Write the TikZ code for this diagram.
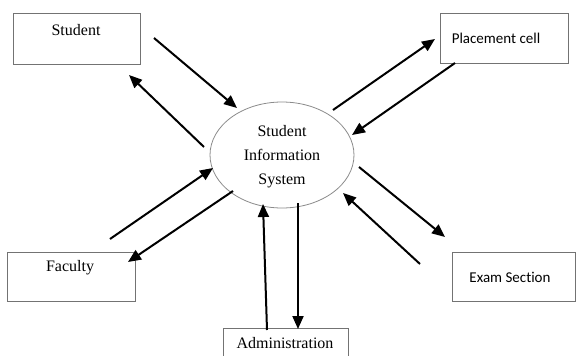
\documentclass[tikz,border=0pt]{standalone}
\usepackage{fontspec}
\setmainfont{Liberation Serif}
\newfontfamily\calib[Ligatures=NoCommon]{Carlito}
\usetikzlibrary{arrows.meta,shapes.geometric}
\begin{document}
\begin{tikzpicture}[x=1pt,y=-1pt,
  box/.style={draw=black!55,line width=0.8pt,rectangle,inner sep=0pt},
  lbl/.style={inner sep=0pt,font=\fontsize{16}{18}\selectfont},
  slbl/.style={inner sep=0pt,font=\calib\fontsize{15}{18}\selectfont},
  flow/.style={line width=2pt,-{Triangle[length=13pt,width=11pt]}}]
\useasboundingbox (0,0) rectangle (576,356);
\fill[white] (0,0) rectangle (576,356);
\begin{scope}
\clip (0,0) rectangle (576,356);
% boxes
\node[box,minimum width=127pt,minimum height=51pt] (student) at (76.5,38.5) {};
\node[box,minimum width=128pt,minimum height=50pt] (placement) at (504,38) {};
\node[box,minimum width=128pt,minimum height=49pt] (faculty) at (71,276.5) {};
\node[box,minimum width=123pt,minimum height=49pt] (exam) at (513.5,276.5) {};
\node[box,minimum width=125pt,minimum height=40pt] (admin) at (285.5,348) {};
\node[draw=black!45,line width=0.8pt,ellipse,minimum width=144pt,minimum height=106pt,inner sep=0pt] (sis) at (282,155) {};
\end{scope}
% labels
\node[lbl] (tstudent) at (76,30) {Student};
\node[slbl] (tplacement) at (496,38) {Placement cell};
\node[lbl] (tfaculty) at (70,268) {Faculty};
\node[slbl] (texam) at (510,277) {Exam Section};
\node[lbl] (tadmin) at (285,343) {Administration};
\node[lbl,align=center,font=\fontsize{16}{24}\selectfont] (tsis) at (282,157) {Student\\Information\\System};
% arrow endpoints
\coordinate (a1s) at (154,38);  \coordinate (a1e) at (237,108);
\coordinate (a2s) at (204,147); \coordinate (a2e) at (129,75);
\coordinate (a3s) at (333,110); \coordinate (a3e) at (435,39);
\coordinate (a4s) at (455,63);  \coordinate (a4e) at (352,135);
\coordinate (a5s) at (110,239); \coordinate (a5e) at (213,168);
\coordinate (a6s) at (233,191); \coordinate (a6e) at (128,262);
\coordinate (a7s) at (267,330); \coordinate (a7e) at (263,204);
\coordinate (a8s) at (298,203); \coordinate (a8e) at (298,329);
\coordinate (a9s) at (359,167); \coordinate (a9e) at (445,237);
\coordinate (a10s) at (420,264); \coordinate (a10e) at (343,193);
\draw[flow] (a1s) -- (a1e);
\draw[flow] (a2s) -- (a2e);
\draw[flow] (a3s) -- (a3e);
\draw[flow] (a4s) -- (a4e);
\draw[flow] (a5s) -- (a5e);
\draw[flow] (a6s) -- (a6e);
\draw[flow] (a7s) -- (a7e);
\draw[flow] (a8s) -- (a8e);
\draw[flow] (a9s) -- (a9e);
\draw[flow] (a10s) -- (a10e);
\end{tikzpicture}
\end{document}
